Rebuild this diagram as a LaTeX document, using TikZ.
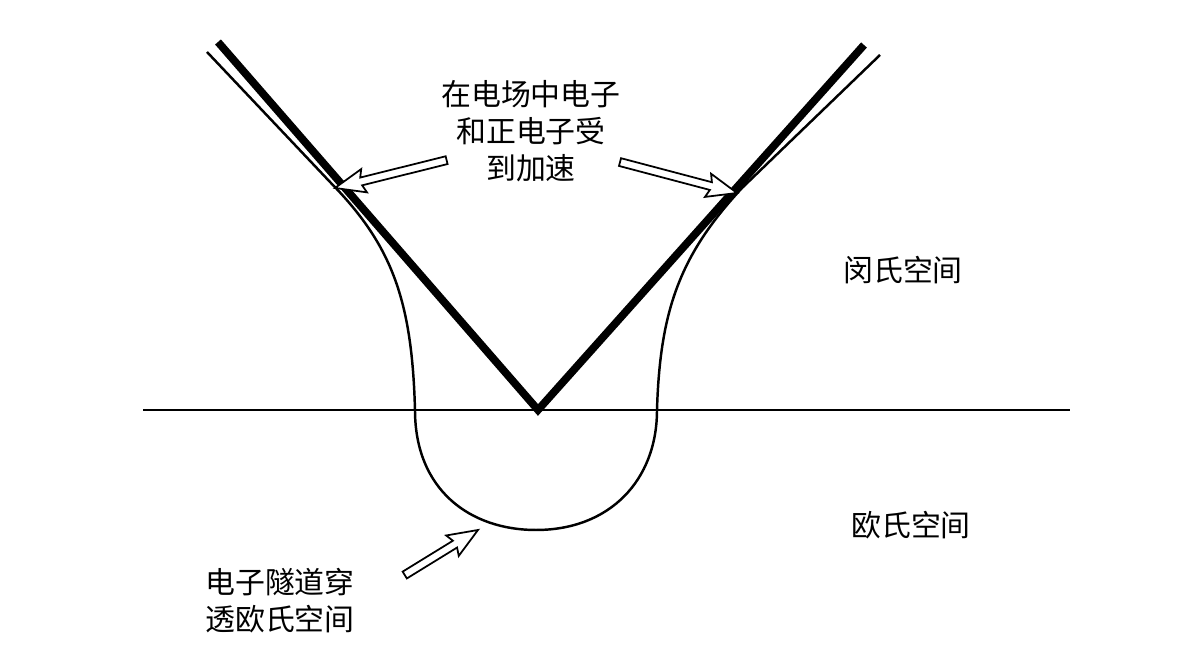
\documentclass[tikz,border=0pt]{standalone}
\usepackage{fontspec}
\newfontfamily\cjk{Noto Sans CJK SC}
\newcommand\harrow[3]{\begin{scope}[shift={#2}, rotate=#1]
\draw[line width=0.5pt, fill=white] (0,0) -- (-30,12) -- (-27,4) -- (-#3,4) -- (-#3,-4) -- (-27,-4) -- (-30,-12) -- cycle;
\end{scope}}
\begin{document}
\begin{tikzpicture}[x=0.01cm,y=-0.01cm, lbl/.style={font=\cjk\fontsize{8.5}{10.5}\selectfont, align=center, inner sep=0}]
\useasboundingbox (0,0) rectangle (1196,662);
\fill[white] (0,0) rectangle (1196,662);
\coordinate (hl) at (143,410); \coordinate (hr) at (1070,410);
\draw[line width=0.6pt] (hl) -- (hr);
\coordinate (vl) at (218,42); \coordinate (vb) at (538,410); \coordinate (vr) at (864,45);
\draw[line width=2.2pt] (vl) -- (vb) -- (vr);
\draw[line width=0.7pt] (207,52) -- (330,182) .. controls (392,245) and (412,300) .. (415,410)
  .. controls (415,490) and (470,530) .. (536,530)
  .. controls (610,530) and (657,480) .. (657,410)
  .. controls (660,310) and (680,255) .. (742,188) -- (880,55);
\harrow{194}{(335,188)}{115}
\harrow{-14.8}{(737,193)}{121}
\harrow{31.6}{(478,530)}{86}
\node[lbl] (t1) at (531,131) {在电场中电子\\和正电子受\\到加速};
\node[lbl] (t2) at (903,270) {闵氏空间};
\node[lbl] (t3) at (911,525) {欧氏空间};
\node[lbl] (t4) at (280,601) {电子隧道穿\\透欧氏空间};
\end{tikzpicture}
\end{document}
